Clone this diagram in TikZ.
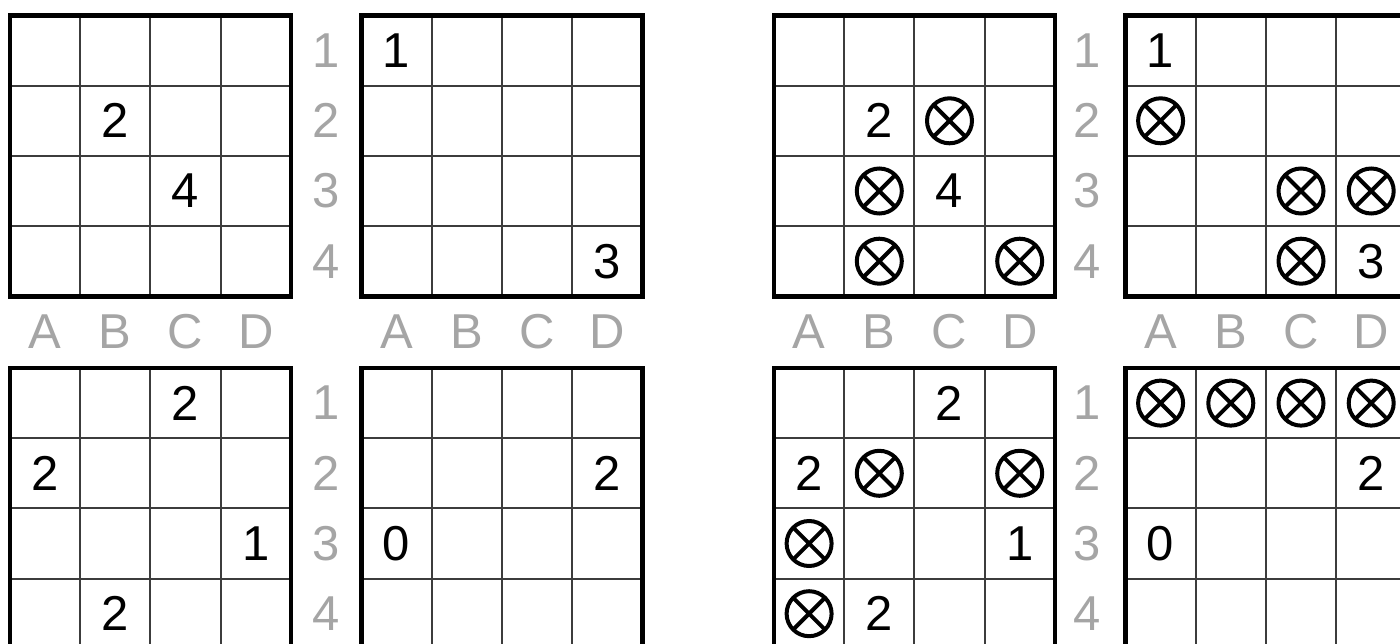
\documentclass[tikz,border=0pt]{standalone}
\usepackage{fontspec}
\setmainfont{Liberation Sans}
\definecolor{labgray}{RGB}{165,165,165}
\definecolor{thingray}{RGB}{60,60,60}
\newcommand\gridat[2]{%
  \foreach \i in {1,2,3} {
    \draw[thinline] ({#1+70.2*\i},#2) -- ++(0,280.8);
    \draw[thinline] (#1,{#2+70.2*\i}) -- ++(280.8,0);
  }
  \draw[border] (#1,#2) rectangle ++(280.8,280.8);}
\newcommand\dg[6]{\node[digit] (#1) at ({#2+35.1+70.2*(#4-1)},{#3+35.1+70.2*(#5-1)}) {#6};}
\newcommand\xx[5]{\node[nogo] (#1) at ({#2+35.1+70.2*(#4-1)},{#3+35.1+70.2*(#5-1)}) {};}
\begin{document}
\begin{tikzpicture}[x=1pt,y=-1pt,
  thinline/.style={draw=thingray,line width=2pt},
  border/.style={draw=black,line width=4.5pt},
  digit/.style={font=\fontsize{49}{49}\selectfont,text=black,inner sep=0pt},
  axislab/.style={font=\fontsize{49}{49}\selectfont,text=labgray,inner sep=0pt},
  nogo/.style={circle,draw=black,line width=4pt,minimum size=45pt,inner sep=0pt,
    path picture={\draw[line width=4pt] (path picture bounding box.north west) -- (path picture bounding box.south east)
      (path picture bounding box.north east) -- (path picture bounding box.south west);}}]
\useasboundingbox (0,0) rectangle (1400,644);
\clip (0,0) rectangle (1400,644);
\fill[white] (0,0) rectangle (1400,644);
% grids
\foreach \ox in {0,764} {
  \gridat{10+\ox}{15.5}
  \gridat{361.5+\ox}{15.5}
  \gridat{10+\ox}{368}
  \gridat{361.5+\ox}{368}
}
% row labels
\foreach \rx/\s in {326/L,1087/R} {
  \foreach \r in {1,2,3,4} {
    \node[axislab] (row\s\r) at (\rx,{15.5+35.1+70.2*(\r-1)}) {\r};
    \node[axislab] (rowb\s\r) at (\rx,{368+35.1+70.2*(\r-1)}) {\r};
  }
}
% column labels
\foreach \gx/\s in {10/a,361.5/b,774/c,1125.5/d} {
  \foreach \c/\t [count=\k] in {A/A,B/B,C/C,D/D} {
    \node[axislab] (col\s\c) at ({\gx+35.1+70.2*(\k-1)},332) {\t};
  }
}
% puzzles (left)
\dg{p1B2}{10}{15.5}{2}{2}{2}
\dg{p1C3}{10}{15.5}{3}{3}{4}
\dg{p2A1}{361.5}{15.5}{1}{1}{1}
\dg{p2D4}{361.5}{15.5}{4}{4}{3}
\dg{p3C1}{10}{368}{3}{1}{2}
\dg{p3A2}{10}{368}{1}{2}{2}
\dg{p3D3}{10}{368}{4}{3}{1}
\dg{p3B4}{10}{368}{2}{4}{2}
\dg{p4D2}{361.5}{368}{4}{2}{2}
\dg{p4A3}{361.5}{368}{1}{3}{0}
% solutions (right)
\dg{s1B2}{774}{15.5}{2}{2}{2}
\xx{s1C2}{774}{15.5}{3}{2}
\xx{s1B3}{774}{15.5}{2}{3}
\dg{s1C3}{774}{15.5}{3}{3}{4}
\xx{s1B4}{774}{15.5}{2}{4}
\xx{s1D4}{774}{15.5}{4}{4}
\dg{s2A1}{1125.5}{15.5}{1}{1}{1}
\xx{s2A2}{1125.5}{15.5}{1}{2}
\xx{s2C3}{1125.5}{15.5}{3}{3}
\xx{s2D3}{1125.5}{15.5}{4}{3}
\xx{s2C4}{1125.5}{15.5}{3}{4}
\dg{s2D4}{1125.5}{15.5}{4}{4}{3}
\dg{s3C1}{774}{368}{3}{1}{2}
\dg{s3A2}{774}{368}{1}{2}{2}
\xx{s3B2}{774}{368}{2}{2}
\xx{s3D2}{774}{368}{4}{2}
\xx{s3A3}{774}{368}{1}{3}
\dg{s3D3}{774}{368}{4}{3}{1}
\xx{s3A4}{774}{368}{1}{4}
\dg{s3B4}{774}{368}{2}{4}{2}
\xx{s4A1}{1125.5}{368}{1}{1}
\xx{s4B1}{1125.5}{368}{2}{1}
\xx{s4C1}{1125.5}{368}{3}{1}
\xx{s4D1}{1125.5}{368}{4}{1}
\dg{s4D2}{1125.5}{368}{4}{2}{2}
\dg{s4A3}{1125.5}{368}{1}{3}{0}
\end{tikzpicture}
\end{document}
